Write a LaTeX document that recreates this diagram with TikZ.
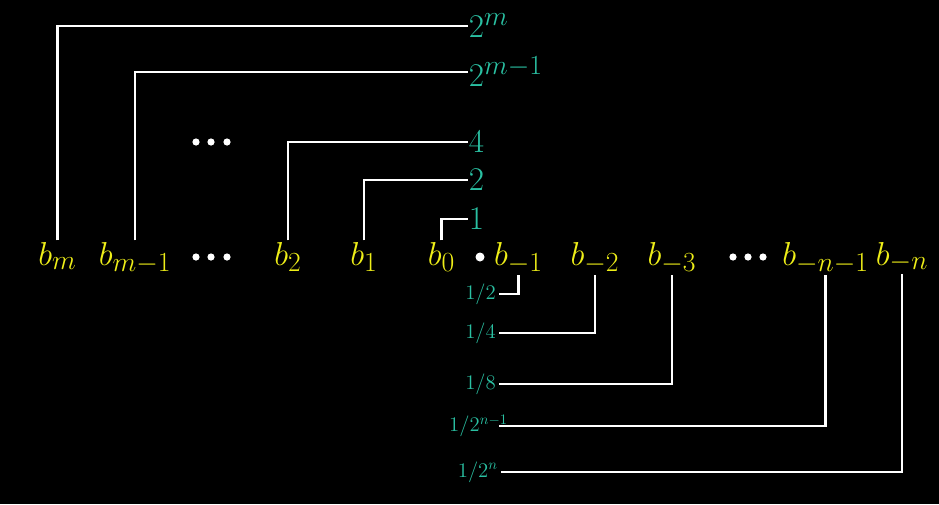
\RequirePackage{fix-cm}
\documentclass[tikz,border=0pt]{standalone}
\definecolor{weightteal}{RGB}{42,192,162}
\definecolor{bityellow}{RGB}{238,238,24}
\begin{document}
\begin{tikzpicture}[x=0.75pt, y=-0.75pt]
        \tikzset{
            wire/.style={draw=white, line width=2pt},
            bit/.style={text=bityellow, font=\Huge, inner sep=1pt, anchor=base},
            weight/.style={text=weightteal, font=\Huge, inner sep=0.5pt, anchor=west},
            fraction/.style={text=weightteal, font=\fontsize{15.6}{18}\selectfont, inner ysep=0pt, inner xsep=2.2pt, anchor=east},
            dotmark/.style={fill=white}
        }

        \fill[black] (0,0) rectangle (939,504);
        \useasboundingbox (0,0) rectangle (939,504);

        \node[bit] (bm) at (57.5,265) {$b_m$};
        \node[bit] (bmm) at (135,265) {$b_{m-1}$};
        \node[bit] (btwo) at (288,265) {$b_2$};
        \node[bit] (bone) at (364,265) {$b_1$};
        \node[bit] (bzero) at (441.5,265) {$b_0$};
        \node[bit] (bnegone) at (518.5,265) {$b_{-1}$};
        \node[bit] (bnegtwo) at (595,265) {$b_{-2}$};
        \node[bit] (bnegthree) at (672,265) {$b_{-3}$};
        \node[bit] (bnegnm) at (825.5,265) {$b_{-n-1}$};
        \node[bit] (bnegn) at (902,265) {$b_{-n}$};

        \fill[dotmark] (480,257) circle (4.5);
        \fill[dotmark] (196,257) circle (3.6);
        \fill[dotmark] (211,257) circle (3.6);
        \fill[dotmark] (227,257) circle (3.6);
        \fill[dotmark] (733,257) circle (3.6);
        \fill[dotmark] (748,257) circle (3.6);
        \fill[dotmark] (763,257) circle (3.6);
        \fill[dotmark] (196,142) circle (3.6);
        \fill[dotmark] (211,142) circle (3.6);
        \fill[dotmark] (227,142) circle (3.6);

        \node[weight] (wm) at (468,26) {$2^m$};
        \node[weight] (wmm) at (468,72) {$2^{m-1}$};
        \node[weight] (wfour) at (468,142) {$4$};
        \node[weight] (wtwo) at (468,180) {$2$};
        \node[weight] (wone) at (468,219) {$1$};

        \draw[wire] (bm.north) |- (wm.west);
        \draw[wire] (bmm.north) |- (wmm.west);
        \draw[wire] (btwo.north) |- (wfour.west);
        \draw[wire] (bone.north) |- (wtwo.west);
        \draw[wire] (bzero.north) |- (wone.west);

        \node[fraction] (fhalf) at (499,294) {$1/2$};
        \node[fraction] (fquarter) at (499,333) {$1/4$};
        \node[fraction] (feighth) at (499,384) {$1/8$};
        \node[fraction] (fnm) at (511,426) {$1/2^{n-1}$};
        \coordinate (fnmend) at (499,426);
        \node[fraction] (fn) at (501,472) {$1/2^n$};

        \draw[wire] (bnegone.south) |- (fhalf.east);
        \draw[wire] (bnegtwo.south) |- (fquarter.east);
        \draw[wire] (bnegthree.south) |- (feighth.east);
        \draw[wire] (bnegnm.south) |- (fnmend);
        \draw[wire] (bnegn.south) |- (fn.east);
    \end{tikzpicture}
\end{document}
